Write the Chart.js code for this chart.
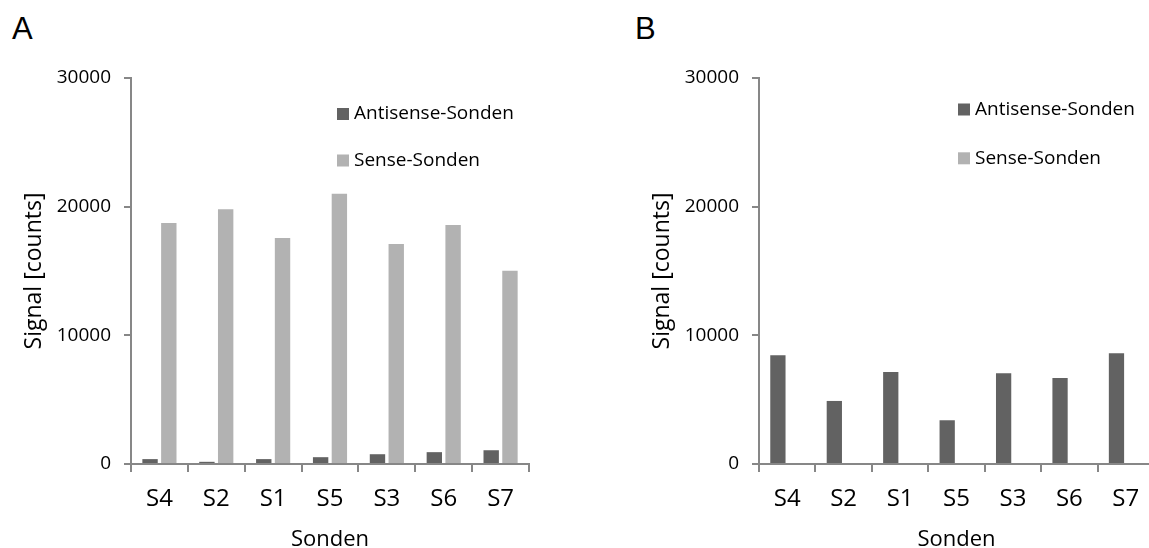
<!DOCTYPE html>
<html lang="de">
<head>
    <meta charset="UTF-8">
    <title>Signal der Sonden</title>
    <script src="https://cdn.jsdelivr.net/npm/chart.js"></script>
    <style>
        body { margin: 0; width: 1149px; height: 548px; overflow: hidden; background: white; position: relative; }
        .panel { position: absolute; top: 0; width: 560px; height: 556px; }
        .panel-letter { position: absolute; top: 13px; font: 31px/1 'Liberation Sans', Arial, sans-serif; color: #000; }
    </style>
</head>
<body>
    <div class="panel-letter" style="left: 12px;">A</div>
    <div class="panel-letter" style="left: 635px;">B</div>
    <div class="panel" style="left: 0;"><canvas id="chartA"></canvas></div>
    <div class="panel" style="left: 628px;"><canvas id="chartB"></canvas></div>

    <script>
        // data
        const probes = ['S4', 'S2', 'S1', 'S5', 'S3', 'S6', 'S7'];
        const antisenseA = [380, 170, 380, 530, 760, 920, 1070];
        const senseA = [18730, 19790, 17560, 21010, 17100, 18570, 15020];
        const antisenseB = [8450, 4900, 7150, 3400, 7050, 6680, 8610];
        const senseB = [0, 0, 0, 0, 0, 0, 0];
        const yTicks = [0, 10000, 20000, 30000];

        const axisGray = '#878787';
        Chart.defaults.font.family = "'Open Sans', sans-serif";
        Chart.defaults.color = '#000';

        // legend drawn inside the plot area, one entry per row
        const legendBoxes = {
            id: 'legendBoxes',
            afterDraw(chart, args, opts) {
                const ctx = chart.ctx;
                const area = chart.chartArea;
                ctx.save();
                ctx.font = "19px 'Open Sans'";
                ctx.textBaseline = 'middle';
                chart.data.datasets.forEach((ds, i) => {
                    const x = area.left + opts.x;
                    const y = opts.y + i * opts.gap;
                    ctx.fillStyle = ds.backgroundColor;
                    ctx.fillRect(x, y - 6, 12, 12);
                    ctx.fillStyle = '#000';
                    ctx.fillText(ds.label, x + 17, y);
                });
                ctx.restore();
            }
        };

        function makeChart(id, antisense, sense, rightPad, legendPos) {
            return new Chart(document.getElementById(id), {
                type: 'bar',
                data: {
                    labels: probes,
                    datasets: [
                        { label: 'Antisense-Sonden', data: antisense, backgroundColor: '#626262' },
                        { label: 'Sense-Sonden', data: sense, backgroundColor: '#b2b2b2' }
                    ]
                },
                options: {
                    responsive: true,
                    maintainAspectRatio: false,
                    animation: false,
                    categoryPercentage: 0.66,
                    barPercentage: 0.82,
                    layout: { padding: { top: 78, right: rightPad, bottom: 0, left: 0 } },
                    plugins: {
                        legend: { display: false },
                        tooltip: { enabled: false },
                        legendBoxes: legendPos
                    },
                    scales: {
                        x: {
                            offset: true,
                            grid: { drawOnChartArea: false, drawTicks: true, tickLength: 8, color: axisGray, lineWidth: 2, offset: true },
                            border: { display: true, color: axisGray, width: 2 },
                            ticks: { font: { size: 24 }, padding: 13 },
                            title: { display: true, text: 'Sonden', font: { size: 22 }, padding: { top: 0, bottom: 3 } },
                            afterFit(scale) { scale.height = 92; }
                        },
                        y: {
                            min: 0,
                            max: 30000,
                            afterBuildTicks(scale) { scale.ticks = yTicks.map(v => ({ value: v })); },
                            grid: { drawOnChartArea: false, drawTicks: true, tickLength: 7, color: axisGray, lineWidth: 2 },
                            border: { display: true, color: axisGray, width: 2 },
                            ticks: { font: { size: 19 }, padding: 13, callback: v => String(v) },
                            title: { display: true, text: 'Signal [counts]', font: { size: 23 }, padding: { top: 21, bottom: 0 } },
                            afterFit(scale) { scale.width = 131; }
                        }
                    }
                },
                plugins: [legendBoxes]
            });
        }

        window.onload = function() {
            makeChart('chartA', antisenseA, senseA, 31, { x: 206, y: 114, gap: 46.5 });
            makeChart('chartB', antisenseB, senseB, 34, { x: 199, y: 109.5, gap: 48.8 });
        };
    </script>
</body>
</html>
